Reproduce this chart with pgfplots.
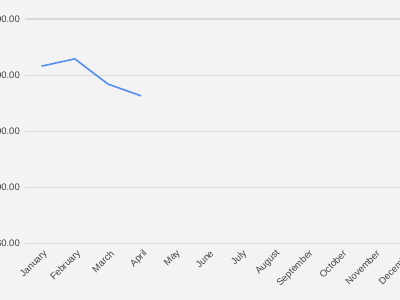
\documentclass[border=0pt]{standalone}
\usepackage{pgfplots}
\pgfplotsset{compat=1.18}
\usepackage{fontspec}
\setmainfont{Liberation Sans}
\definecolor{bg}{HTML}{F3F3F3}
\definecolor{gridc}{HTML}{D9D9D9}
\definecolor{basec}{HTML}{A0A0A0}
\definecolor{linec}{HTML}{548EEE}
\definecolor{txt}{HTML}{444444}
\begin{document}
\begin{tikzpicture}
\useasboundingbox (0pt,0pt) rectangle (400pt,300pt);
\fill[bg] (0pt,0pt) rectangle (400pt,300pt);
\clip (0pt,0pt) rectangle (400pt,300pt);
\begin{axis}[
  at={(25pt,56.5pt)}, anchor=south west,
  scale only axis, width=398.4pt, height=224.5pt,
  xmin=-0.5, xmax=11.5, ymin=0, ymax=400,
  axis line style={draw=none},
  tick style={draw=none},
  xtick={0,...,11},
  xticklabels={January,February,March,April,May,June,July,August,September,October,November,December},
  ytick={0,100,200,300,400},
  yticklabels={\$0.00,\$100.00,\$200.00,\$300.00,\$400.00},
  ymajorgrids,
  major grid style={gridc, line width=1.2pt},
  extra y ticks={0},
  extra y tick labels={},
  extra y tick style={grid style={basec, line width=2pt}},
  tick label style={font=\fontsize{9.5}{11}\selectfont, text=txt},
  yticklabel style={anchor=east, inner sep=0pt, xshift=-5pt},
  xticklabel style={inner sep=0pt, xshift=4.5pt, yshift=-8.5pt, rotate=45, anchor=east},
]
\addplot[linec, line width=1.6pt] coordinates {(0,316) (1,329) (2,284) (3,263)};
\end{axis}
\end{tikzpicture}
\end{document}
